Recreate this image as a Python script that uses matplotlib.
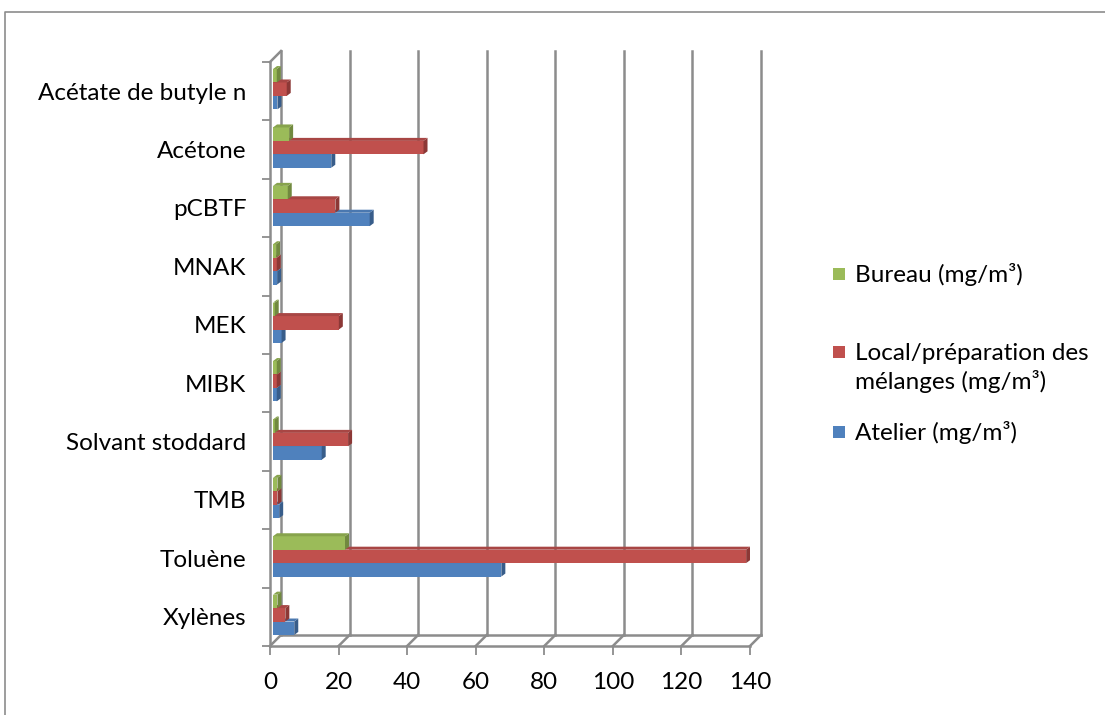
import matplotlib.pyplot as plt
from matplotlib.lines import Line2D
from matplotlib.patches import Polygon, Rectangle
from matplotlib.transforms import offset_copy
import numpy as np

plt.rcParams['font.family'] = ['Lato', 'DejaVu Sans']

categories = ['Xylènes', 'Toluène', 'TMB', 'Solvant stoddard', 'MIBK',
              'MEK', 'MNAK', 'pCBTF', 'Acétone', 'Acétate de butyle n']
atelier = [6.2, 66.6, 1.8, 14.2, 1.1, 2.5, 1.2, 28.2, 17.0, 1.3]
local = [3.6, 138.0, 1.3, 21.9, 1.1, 19.2, 1.1, 18.2, 43.9, 4.0]
bureau = [1.3, 21.0, 1.3, 0.5, 1.1, 0.5, 0.9, 4.3, 4.7, 1.1]

series = [
    ('Atelier (mg/m³)', atelier, '#4F81BD', '#385D8A', '#4A78B0'),
    ('Local/préparation des\nmélanges (mg/m³)', local, '#C0504D', '#8C3836', '#A84644'),
    ('Bureau (mg/m³)', bureau, '#9BBB59', '#71893F', '#87A34C'),
]
xticks = np.arange(0, 141, 20)
fs = 17.5

W, H = 1105, 715
fig = plt.figure(figsize=(W / 100, H / 100), dpi=100)

# front plane of the pseudo-3D plot
x0, x1, ytop, ybot = 270, 750, 62, 646
ax = fig.add_axes([x0 / W, 1 - ybot / H, (x1 - x0) / W, (ybot - ytop) / H])
ax.set_xlim(0, 140)
ax.set_ylim(-0.5, len(categories) - 0.5)
for s in ax.spines.values():
    s.set_visible(False)

grid_c = '#8C8C8C'
depth = offset_copy(ax.transData, fig=fig, x=11, y=11, units='dots')
ymin, ymax = -0.5, len(categories) - 0.5

# back wall gridlines and floor
for xv in xticks:
    ax.add_line(Line2D([xv, xv], [ymin, ymax], transform=depth, color=grid_c,
                       lw=1.8, clip_on=False))
ax.add_line(Line2D([0, 140], [ymin, ymin], transform=depth, color=grid_c, lw=1.8, clip_on=False))
# floor connectors between front and back
for xv in xticks:
    pf = ax.transData.transform((xv, ymin))
    pb = depth.transform((xv, ymin))
    ax.add_line(Line2D([pf[0], pb[0]], [pf[1], pb[1]], transform=None,
                       color=grid_c, lw=1.8, clip_on=False))
# top left connector
pf = ax.transData.transform((0, ymax))
pb = depth.transform((0, ymax))
ax.add_line(Line2D([pf[0], pb[0]], [pf[1], pb[1]], transform=None,
                   color=grid_c, lw=1.8, clip_on=False))
# front axes
ax.add_line(Line2D([0, 140], [ymin, ymin], color=grid_c, lw=1.8, clip_on=False))
ax.add_line(Line2D([0, 0], [ymin, ymax], color=grid_c, lw=1.8, clip_on=False))

# bars with a thin top face and a darker end face
bar_h = 0.23
bars_tr = offset_copy(ax.transData, fig=fig, x=3, y=2, units='dots')
bbox = ax.get_window_extent()
dxd = 4 * 140 / bbox.width
dyd = 3 * (ymax - ymin) / bbox.height
ypos = np.arange(len(categories))
for k, (name, vals, col, dark, mid) in enumerate(series):
    yc = ypos + (k - 1) * bar_h
    ax.barh(yc, vals, height=bar_h, color=col, transform=bars_tr, zorder=3,
            edgecolor='none')
    for y, v in zip(yc, vals):
        ya, yb = y - bar_h / 2, y + bar_h / 2
        ax.add_patch(Polygon([(v, ya), (v + dxd, ya + dyd), (v + dxd, yb + dyd), (v, yb)],
                             closed=True, facecolor=dark, edgecolor='none',
                             transform=bars_tr, zorder=3))
        ax.add_patch(Polygon([(0, yb), (dxd, yb + dyd), (v + dxd, yb + dyd), (v, yb)],
                             closed=True, facecolor=mid, edgecolor='none',
                             transform=bars_tr, zorder=3))

ax.set_xticks(xticks)
ax.set_xticklabels([str(t) for t in xticks], fontsize=fs)
ax.tick_params(axis='x', length=6.5, width=1.3, color=grid_c, pad=12)
ax.set_yticks(ypos)
ax.set_yticklabels(categories, fontsize=fs)
ax.set_yticks(np.arange(ymin, ymax + 0.01, 1), minor=True)
ax.tick_params(axis='y', which='major', length=0, pad=17)
ax.tick_params(axis='y', which='minor', length=6, width=1.3, color=grid_c)

# legend
leg_items = [(series[2], 274, 274), (series[1], 352, 368), (series[0], 432, 432)]
for (name, vals, col, dark, mid), ysq, ytxt in leg_items:
    fig.patches.append(Rectangle((833 / W, 1 - (ysq + 6) / H), 12 / W, 12 / H,
                                 transform=fig.transFigure, facecolor=col,
                                 edgecolor='none'))
    fig.text(855 / W, 1 - ytxt / H, name, fontsize=fs, va='center',
             ha='left', linespacing=1.35)

# chart area border
fig.lines.append(Line2D([5 / W, 5 / W, 1], [0, 1 - 12 / H, 1 - 12 / H],
                        transform=fig.transFigure, color='#8C8C8C', lw=1.2))

fig.savefig('out.png', dpi=100)
